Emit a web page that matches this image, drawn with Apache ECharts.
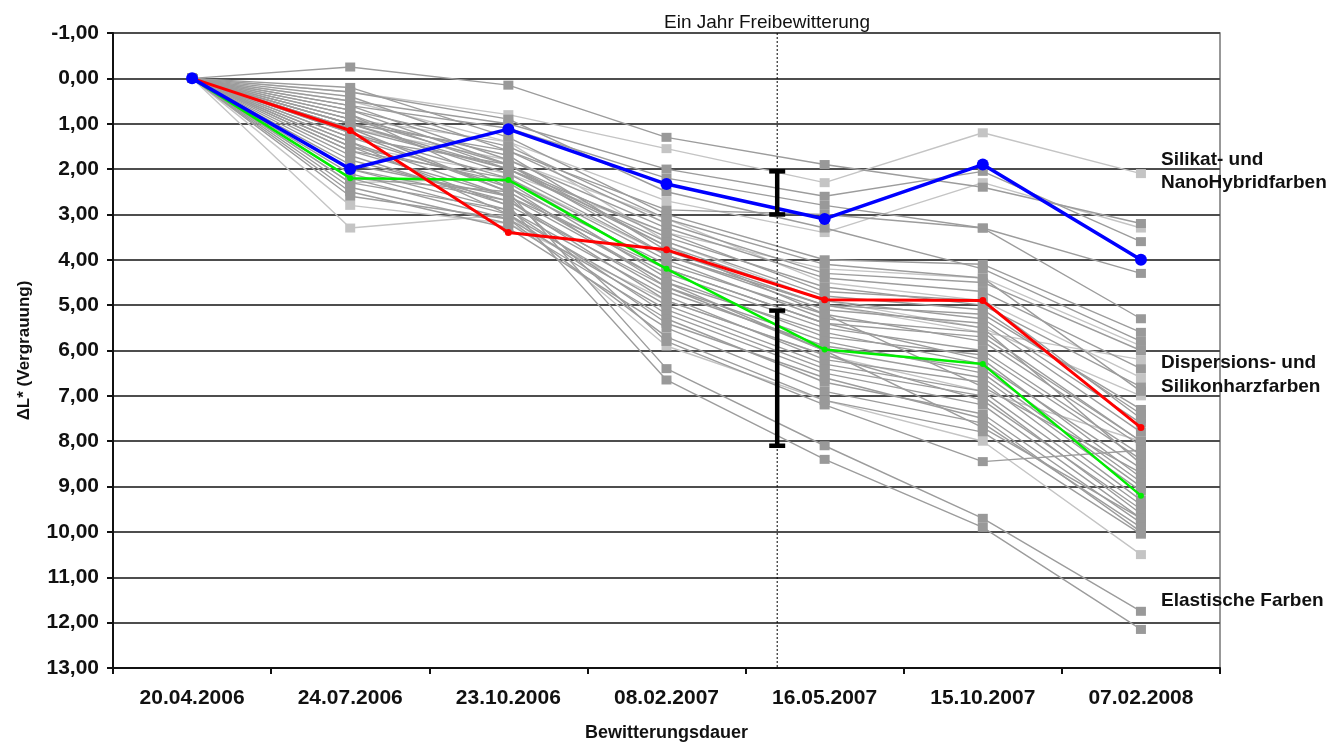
<!DOCTYPE html>
<html>
<head>
<meta charset="utf-8">
<script src="https://cdn.jsdelivr.net/npm/echarts@6/dist/echarts.min.js"></script>
<style>
  html, body { margin: 0; padding: 0; background: #fff; }
  #chart { width: 1332px; height: 747px; }
</style>
</head>
<body>
<div id="chart"></div>
<script>
// Messtermine
var dates = ['20.04.2006', '24.07.2006', '23.10.2006', '08.02.2007', '16.05.2007', '15.10.2007', '07.02.2008'];

// hervorgehobene Produkte
var blueLine = [0, 2.0, 1.12, 2.33, 3.1, 1.9, 4.0];
var redLine = [0, 1.15, 3.4, 3.78, 4.88, 4.9, 7.7];
var greenLine = [0, 2.2, 2.24, 4.2, 5.98, 6.3, 9.2];

// übrige Produkte (dunkelgrau)
var darkLines = [
  [0, -0.25, 0.15, 1.3, 1.9, 2.4, 3.2],
  [0, 0.5, 1.0, 2.0, 2.6, 2.05, 3.6],
  [0, 0.6, 1.1, 2.2, 2.8, 3.3, 4.3],
  [0, 1.0, 1.6, 2.9, 3.0, 3.3, 5.3],
  [0, 0.2, 1.3, 3.0, 4.0, 4.1, 5.6],
  [0, 0.4, 1.6, 3.2, 4.3, 4.5, 6.0],
  [0, 0.6, 1.8, 3.3, 4.4, 4.7, 6.4],
  [0, 0.7, 1.9, 3.5, 4.6, 5.0, 6.8],
  [0, 0.8, 2.0, 3.6, 4.8, 5.1, 7.4],
  [0, 0.9, 1.9, 3.7, 4.9, 5.3, 7.6],
  [0, 0.9, 1.7, 3.8, 5.0, 5.2, 7.3],
  [0, 1.0, 2.1, 3.9, 5.1, 5.4, 7.8],
  [0, 1.2, 2.2, 4.0, 5.3, 5.6, 8.0],
  [0, 1.9, 2.6, 4.2, 5.4, 5.7, 8.0],
  [0, 1.3, 2.4, 4.1, 5.2, 5.8, 8.1],
  [0, 1.1, 2.5, 4.3, 5.5, 6.0, 8.3],
  [0, 1.5, 2.3, 4.4, 5.7, 6.1, 8.4],
  [0, 1.6, 2.6, 4.5, 5.6, 6.3, 8.6],
  [0, 1.8, 2.7, 4.7, 5.9, 6.4, 8.9],
  [0, 1.7, 2.8, 4.6, 6.0, 6.6, 9.1],
  [0, 2.0, 2.9, 4.8, 6.2, 6.7, 9.3],
  [0, 2.1, 3.0, 5.0, 6.3, 6.9, 9.4],
  [0, 2.2, 3.1, 5.1, 6.4, 7.0, 9.6],
  [0, 2.3, 2.9, 5.2, 6.5, 7.2, 9.7],
  [0, 2.4, 3.2, 5.3, 6.7, 7.4, 9.8],
  [0, 2.5, 3.3, 5.5, 6.9, 7.6, 9.9],
  [0, 2.6, 3.1, 5.7, 7.1, 7.8, 10.05],
  [0, 1.4, 2.6, 5.8, 7.2, 8.45, 8.2],
  [0, 1.2, 2.5, 6.4, 8.1, 9.7, 11.75],
  [0, 1.5, 2.8, 6.65, 8.4, 9.9, 12.15],
  [0, 0.3, 0.9, 2.5, 3.3, 4.2, 5.8],
  [0, 0.7, 1.5, 3.1, 4.1, 4.4, 6.9],
  [0, 1.0, 2.0, 3.4, 4.7, 4.9, 7.5],
  [0, 1.3, 1.9, 3.9, 5.0, 5.5, 8.5],
  [0, 1.6, 2.2, 4.2, 5.4, 6.2, 8.8],
  [0, 0.8, 2.4, 4.6, 5.8, 6.5, 9.0],
  [0, 2.0, 2.7, 4.9, 6.1, 7.1, 9.5],
  [0, 1.4, 3.0, 5.4, 6.6, 7.5, 10.0],
  [0, 2.2, 2.5, 4.5, 6.0, 7.7, 9.7],
  [0, 1.1, 2.0, 3.7, 5.2, 6.8, 8.7]
];

// übrige Produkte (hellgrau)
var lightLines = [
  [0, 0.3, 0.8, 1.55, 2.3, 1.2, 2.1],
  [0, 0.9, 1.4, 2.7, 3.4, 2.3, 3.3],
  [0, 1.5, 2.1, 3.4, 4.2, 4.4, 5.9],
  [0, 2.3, 2.2, 3.9, 5.0, 5.6, 6.2],
  [0, 0.5, 1.4, 3.6, 4.9, 5.5, 7.0],
  [0, 1.1, 1.8, 3.1, 4.5, 4.9, 6.6],
  [0, 2.8, 3.2, 4.9, 6.1, 6.9, 8.0],
  [0, 3.3, 3.0, 5.9, 7.1, 8.0, 10.5]
];

// ein Jahr Freibewitterung (Position zwischen den Messterminen) und Streubalken
var oneYearPos = 3.7;
var errorBars = [[2.05, 3.0], [5.12, 8.1]];

var yTicks = [-1, 0, 1, 2, 3, 4, 5, 6, 7, 8, 9, 10, 11, 12, 13];

var font = 'Liberation Sans, Arial, sans-serif';
var myChart = echarts.init(document.getElementById('chart'));

var series = [];
lightLines.forEach(function (d) {
  series.push({
    type: 'line', data: d, symbol: 'rect', symbolSize: [10, 9], silent: true, animation: false,
    lineStyle: { color: '#c4c4c4', width: 1.4 },
    itemStyle: { color: '#c4c4c4' }
  });
});
darkLines.forEach(function (d) {
  series.push({
    type: 'line', data: d, symbol: 'rect', symbolSize: [10, 9], silent: true, animation: false,
    lineStyle: { color: '#9c9c9c', width: 1.4 },
    itemStyle: { color: '#999999' }
  });
});
series.push({
  type: 'line', data: greenLine, symbol: 'circle', symbolSize: 6, z: 5, animation: false,
  lineStyle: { color: '#00ee00', width: 2.5 }, itemStyle: { color: '#00ee00' }
});
series.push({
  type: 'line', data: redLine, symbol: 'circle', symbolSize: 7, z: 5, animation: false,
  lineStyle: { color: '#ff0000', width: 3 }, itemStyle: { color: '#ff0000' }
});
series.push({
  type: 'line', data: blueLine, symbol: 'circle', symbolSize: 12, z: 6, animation: false,
  lineStyle: { color: '#0000ff', width: 3.5 }, itemStyle: { color: '#0000ff' },
  showAllSymbol: true
});
// senkrechte Linie "Ein Jahr Freibewitterung"
series.push({
  type: 'line', xAxisIndex: 1, data: [[oneYearPos, -1], [oneYearPos, 13]],
  symbol: 'none', z: 7, animation: false,
  lineStyle: { color: '#000', width: 1, type: [2, 2] }
});
// Streubalken
series.push({
  type: 'custom', xAxisIndex: 1, z: 8, animation: false,
  data: errorBars.map(function (b) { return [oneYearPos, b[0], b[1]]; }),
  renderItem: function (params, api) {
    var p1 = api.coord([api.value(0), api.value(1)]);
    var p2 = api.coord([api.value(0), api.value(2)]);
    var hw = 8;
    var st = { stroke: '#000', lineWidth: 4.5 };
    return {
      type: 'group',
      children: [
        { type: 'line', shape: { x1: p1[0], y1: p1[1], x2: p2[0], y2: p2[1] }, style: st },
        { type: 'line', shape: { x1: p1[0] - hw, y1: p1[1], x2: p1[0] + hw, y2: p1[1] }, style: st },
        { type: 'line', shape: { x1: p2[0] - hw, y1: p2[1], x2: p2[0] + hw, y2: p2[1] }, style: st }
      ]
    };
  }
});

var option = {
  animation: false,
  backgroundColor: '#fff',
  grid: { left: 113, right: 112, top: 33, bottom: 77, show: true, borderColor: '#777', borderWidth: 1.5 },
  title: {
    text: 'Ein Jahr Freibewitterung',
    left: 762, top: 8, textAlign: 'center',
    textStyle: { fontFamily: font, fontSize: 19, fontWeight: 'normal', color: '#111' }
  },
  xAxis: [{
    type: 'category',
    data: dates,
    boundaryGap: true,
    name: 'Bewitterungsdauer',
    nameLocation: 'middle',
    nameGap: 56,
    nameTextStyle: { fontFamily: font, fontSize: 18, fontWeight: 'bold', color: '#111' },
    axisLine: { onZero: false, lineStyle: { color: '#111', width: 2 } },
    axisTick: { show: true, length: 6, lineStyle: { color: '#111', width: 2 } },
    axisLabel: { fontFamily: font, fontSize: 21, fontWeight: 'bold', color: '#111', margin: 20 },
    splitLine: { show: false }
  }, {
    type: 'value', min: -0.5, max: 6.5, show: false,
    axisLine: { onZero: false }
  }],
  yAxis: {
    type: 'value',
    inverse: true,
    min: yTicks[0],
    max: yTicks[yTicks.length - 1],
    interval: 1,
    name: 'ΔL* (Vergrauung)',
    nameLocation: 'middle',
    nameRotate: 90,
    nameGap: 80,
    nameTextStyle: { fontFamily: font, fontSize: 17, fontWeight: 'bold', color: '#111' },
    axisLine: { show: true, onZero: false, lineStyle: { color: '#111', width: 2 } },
    axisTick: { show: true, length: 6, lineStyle: { color: '#111', width: 2 } },
    axisLabel: {
      fontFamily: font, fontSize: 21, fontWeight: 'bold', color: '#111', margin: 14,
      formatter: function (v) { return v.toFixed(2).replace('.', ','); }
    },
    splitLine: { show: true, lineStyle: { color: '#4d4d4d', width: 2 } }
  },
  graphic: [
    { type: 'text', left: 1161, top: 148, style: { text: 'Silikat- und\nNanoHybridfarben', fontFamily: font, fontSize: 19, fontWeight: 'bold', fill: '#111', lineHeight: 23 } },
    { type: 'text', left: 1161, top: 351, style: { text: 'Dispersions- und\nSilikonharzfarben', fontFamily: font, fontSize: 19, fontWeight: 'bold', fill: '#111', lineHeight: 24 } },
    { type: 'text', left: 1161, top: 591, style: { text: 'Elastische Farben', fontFamily: font, fontSize: 19, fontWeight: 'bold', fill: '#111' } }
  ],
  series: series
};

myChart.setOption(option);
window.onresize = () => myChart.resize();
</script>
</body>
</html>
